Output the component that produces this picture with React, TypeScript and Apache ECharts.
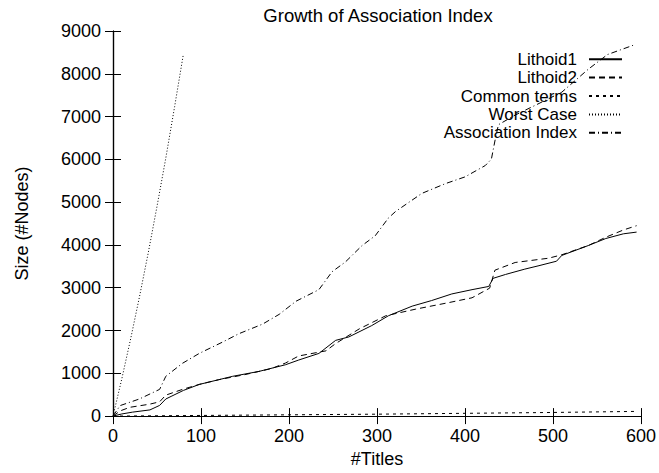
import React, { useEffect, useRef } from "react";
import * as echarts from "echarts";

const FONT = "'Liberation Sans', Arial, Helvetica, sans-serif";

const chartTitle = "Growth of Association Index";
const xAxisName = "#Titles";
const yAxisName = "Size (#Nodes)";
const seriesNames = ["Lithoid1", "Lithoid2", "Common terms", "Worst Case", "Association Index"];

const lithoid1X = [0, 10, 22, 42, 53, 60, 66, 80, 98, 120, 136, 166, 196, 211, 234, 253, 268, 294, 313, 340, 362, 385, 408, 427, 432, 446, 468, 483, 504, 510, 540, 560, 580, 595];
const lithoid1Y = [0, 50, 92, 145, 250, 400, 460, 600, 740, 850, 930, 1045, 1200, 1310, 1465, 1770, 1850, 2115, 2345, 2570, 2700, 2855, 2955, 3030, 3220, 3310, 3435, 3510, 3620, 3755, 3985, 4150, 4260, 4300];

const lithoid2X = [0, 8, 19, 42, 53, 60, 79, 98, 120, 150, 180, 196, 211, 242, 253, 280, 310, 344, 381, 408, 428, 434, 457, 495, 510, 540, 560, 580, 595];
const lithoid2Y = [0, 120, 205, 280, 335, 490, 625, 740, 850, 970, 1110, 1240, 1405, 1525, 1695, 2040, 2345, 2500, 2650, 2765, 2990, 3410, 3590, 3690, 3770, 3985, 4180, 4350, 4450];

const commonX = [0, 100, 200, 300, 400, 500, 595];
const commonY = [0, 15, 30, 45, 65, 85, 110];

const worstX = [0, 10, 20, 30, 40, 50, 60, 70, 80];
const worstY = [0, 870, 1800, 2780, 3810, 4900, 6030, 7230, 8460];

const assocX = [0, 8, 30, 53, 60, 79, 98, 125, 143, 170, 189, 208, 234, 249, 264, 283, 298, 313, 321, 351, 378, 400, 423, 430, 434, 438, 457, 480, 510, 540, 562, 593];
const assocY = [0, 245, 400, 625, 930, 1235, 1465, 1735, 1925, 2150, 2380, 2685, 2955, 3375, 3600, 3985, 4215, 4630, 4780, 5205, 5435, 5590, 5855, 6005, 6430, 6810, 7035, 7265, 7570, 8105, 8450, 8680];

const xTicks = { min: 0, max: 600, interval: 100 };
const yTicks = { min: 0, max: 9000, interval: 1000 };

const pairs = (xs: number[], ys: number[]) => xs.map((x, i) => [x, ys[i]]);

export default function App() {
  const ref = useRef<HTMLDivElement>(null);
  useEffect(() => {
    if (!ref.current) return;
    const chart = echarts.init(ref.current, null, { renderer: "svg" });
    const tick = { show: true, inside: true, length: 8, lineStyle: { color: "#000", width: 1 } };
    const axLine = { show: true, lineStyle: { color: "#000", width: 1.2 } };
    const lbl = { color: "#000", fontSize: 18, fontFamily: FONT };
    const dashes: any[] = ["solid", [6, 4], [3, 4], [1, 2], [6, 3, 1, 3]];
    const datas = [
      pairs(lithoid1X, lithoid1Y),
      pairs(lithoid2X, lithoid2Y),
      pairs(commonX, commonY),
      pairs(worstX, worstY),
      pairs(assocX, assocY),
    ];
    const plain = (v: number) => String(v);
    chart.setOption({
      animation: false,
      backgroundColor: "#fff",
      grid: { left: 113, right: 17, top: 31, bottom: 49, containLabel: false },
      graphic: [
        {
          type: "text",
          x: 378,
          y: 15,
          style: { text: chartTitle, font: `18.5px ${FONT}`, fill: "#000", align: "center", verticalAlign: "middle" },
        },
      ],
      legend: {
        orient: "vertical",
        right: 36,
        top: 50,
        padding: 0,
        align: "right",
        itemWidth: 33,
        itemHeight: 10,
        itemGap: 0,
        data: seriesNames,
        itemStyle: { opacity: 0 },
        textStyle: { color: "#000", fontSize: 17, fontFamily: FONT, lineHeight: 18.4, padding: [0, 7, 0, 0] },
      },
      xAxis: [
        {
          type: "value",
          ...xTicks,
          position: "bottom",
          name: xAxisName,
          nameLocation: "middle",
          nameGap: 30,
          nameTextStyle: lbl,
          axisLine: axLine,
          axisTick: tick,
          axisLabel: { ...lbl, margin: 11, formatter: plain },
          splitLine: { show: false },
        },
        {
          type: "value",
          ...xTicks,
          position: "top",
          axisLine: axLine,
          axisTick: tick,
          axisLabel: { show: false },
          splitLine: { show: false },
        },
      ],
      yAxis: [
        {
          type: "value",
          ...yTicks,
          position: "left",
          name: yAxisName,
          nameLocation: "middle",
          nameGap: 82,
          nameTextStyle: lbl,
          axisLine: axLine,
          axisTick: tick,
          axisLabel: { ...lbl, margin: 12, formatter: plain },
          splitLine: { show: false },
        },
        {
          type: "value",
          ...yTicks,
          position: "right",
          axisLine: axLine,
          axisTick: tick,
          axisLabel: { show: false },
          splitLine: { show: false },
        },
      ],
      series: seriesNames.map((name, i) => ({
        name,
        type: "line",
        xAxisIndex: 0,
        yAxisIndex: 0,
        data: datas[i],
        symbol: "none",
        lineStyle: { color: "#000", width: 1, type: dashes[i] },
        itemStyle: { color: "#000" },
      })),
    });
    return () => chart.dispose();
  }, []);
  return <div ref={ref} style={{ position: "fixed", left: 0, top: 0, width: 659, height: 473 }} />;
}
